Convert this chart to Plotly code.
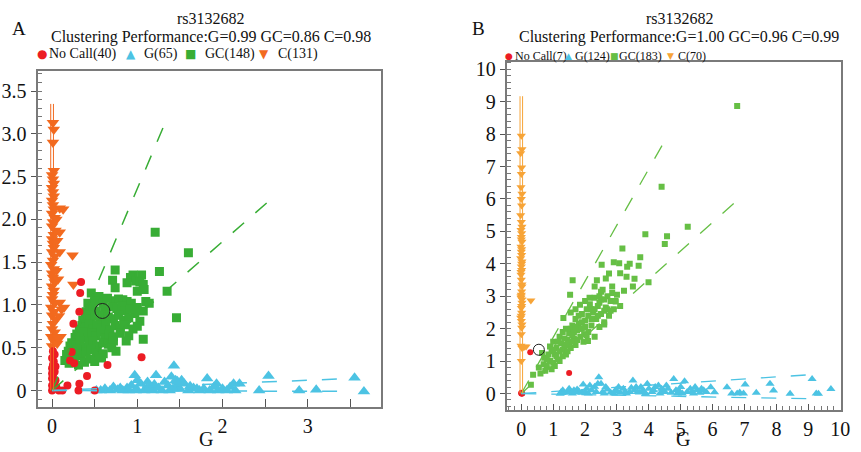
import plotly.graph_objects as go

W, H = 861, 452
FONT = "Liberation Serif, Times New Roman, serif"

# ---------------- panel A (rs3132682, run 1) ----------------
a_title = "rs3132682"
a_sub = "Clustering Performance:G=0.99 GC=0.86 C=0.98"
a_legend = ["No Call(40)", "G(65)", "GC(148)", "C(131)"]

a_nocall_x = [0, 0.01, 0, 0.02, 0, 0.01, 0.03, 0, 0.01, 0.02, 0, 0.03, 0.01, 0.04, 0.05, 0.04, 0, 0.02,
              0.34, 0.33, 0.32, 0.25, 0.21, 0.41, 0.32, 0.18, 0.65, 1.05, 0.31, 0.12, 0.5, 0.08, 0.26, 0.23]
a_nocall_y = [0.0, 0.03, 0.06, 0.1, 0.14, 0.18, 0.22, 0.26, 0.3, 0.34, 0.38, 0.42, 0.46, 0.12, 0.04, 0.28, 0.2, 0.07,
              1.27, 1.14, 0.92, 0.78, 0.35, 0.17, 0.08, 0.06, 0.3, 0.39, 0.0, 0.0, 0.0, 0.0, 0.32, 0.45]

a_g_x = [0.57, 0.62, 0.68, 0.77, 0.83, 0.88, 0.93, 0.97, 0.99, 1.04, 1.08, 1.11, 1.15, 1.18, 1.22, 1.25, 1.29,
         1.32, 1.36, 1.4, 1.43, 1.46, 1.5, 1.55, 1.6, 1.66, 1.73, 1.78, 1.82, 1.85, 1.9, 1.93, 2.0, 2.09, 2.15,
         2.2, 2.43, 2.54, 2.9, 3.1, 3.55, 3.66, 0.72, 1.0, 1.38, 1.2, 0.9, 1.62, 1.7, 1.95, 2.05, 0.52, 0.98,
         0.8, 1.42, 1.47, 1.52, 1.12, 1.45, 2.13]
a_g_y = [0.0, 0.02, 0.0, 0.01, 0.0, 0.03, 0.06, 0.18, 0.02, 0.08, 0.0, 0.02, 0.05, 0.0, 0.18, 0.03, 0.0,
         0.1, 0.06, 0.16, 0.29, 0.05, 0.02, 0.08, 0.0, 0.03, 0.0, 0.02, 0.14, 0.0, 0.04, 0.08, 0.02, 0.04, 0.0,
         0.08, 0.0, 0.17, 0.0, 0.01, 0.15, -0.01, 0.04, 0.12, 0.0, 0.07, 0.0, 0.05, 0.02, 0.0, 0.0, 0.0, 0.0,
         0.03, 0.02, 0.11, 0.12, 0.1, 0.12, 0.08]

a_gc_x = [0.74, 0.95, 1.05, 1.26, 0.71, 0.92, 0.98, 1.03, 1.07, 0.88, 0.46, 0.74, 1.0, 1.08, 1.35, 0.55,
          0.42, 0.5, 0.6, 0.72, 0.78, 0.83, 0.88, 0.93, 1.1, 1.14, 0.65,
          0.4, 0.44, 0.48, 0.52, 0.62, 0.7, 0.76, 0.82, 0.86, 0.92, 1.0, 1.07, 0.97,
          0.36, 0.39, 0.42, 0.45, 0.5, 0.56, 0.6, 0.66, 0.72, 0.78, 0.84, 0.9, 1.03, 1.46,
          0.32, 0.35, 0.38, 0.43, 0.48, 0.53, 0.58, 0.63, 0.68, 0.74, 0.8, 0.86, 0.95, 1.0,
          0.27, 0.29, 0.32, 0.37, 0.42, 0.47, 0.52, 0.57, 0.62, 0.67, 0.72, 0.8, 0.9, 1.07,
          0.21, 0.23, 0.28, 0.33, 0.38, 0.43, 0.48, 0.53, 0.6, 0.66, 0.72, 0.87,
          0.17, 0.19, 0.24, 0.29, 0.34, 0.4, 0.46, 0.52, 0.6, 0.75, 0.7,
          0.15, 0.2, 0.26, 0.31, 0.38, 0.44, 0.5, 0.58,
          1.21, 1.6]
a_gc_y = [1.41, 1.35, 1.35, 1.39, 1.29, 1.32, 1.28, 1.27, 1.24, 1.26, 1.14, 1.2, 1.16, 1.18, 1.16, 1.1,
          1.02, 1.05, 1.02, 1.05, 1.07, 1.06, 1.04, 1.02, 1.04, 1.02, 1.08,
          0.92, 0.95, 0.97, 0.93, 0.95, 0.98, 0.96, 0.99, 0.93, 0.95, 0.97, 0.93, 0.9,
          0.82, 0.85, 0.88, 0.84, 0.87, 0.83, 0.88, 0.86, 0.84, 0.88, 0.82, 0.85, 0.81, 0.85,
          0.72, 0.76, 0.74, 0.78, 0.72, 0.77, 0.73, 0.78, 0.71, 0.76, 0.73, 0.77, 0.72, 0.75,
          0.62, 0.66, 0.63, 0.68, 0.62, 0.67, 0.64, 0.69, 0.61, 0.66, 0.63, 0.67, 0.64, 0.6,
          0.52, 0.56, 0.53, 0.58, 0.51, 0.55, 0.58, 0.52, 0.56, 0.54, 0.58, 0.58,
          0.42, 0.46, 0.43, 0.48, 0.41, 0.45, 0.48, 0.44, 0.43, 0.46, 0.5,
          0.35, 0.32, 0.36, 0.3, 0.33, 0.37, 0.34, 0.38,
          1.85, 1.61]

a_c_x = [0, 0.02, -0.01, 0.03, 0, 0.01, 0.04, 0, 0.02, -0.01, 0.03, 0, 0.01, 0.02, 0, 0.03, 0.01, 0, 0.02,
         -0.01, 0.01, 0.03, 0, 0.02, 0.01, 0, 0.02, 0.04, 0, 0.01, 0.03, 0, 0.02, 0.01, 0, 0.02, 0.01, 0,
         0.02, 0.01, 0, 0.02, 0.01, 0.02, 0.01,
         0.09, 0.13, 0.09, 0.24, 0.09, 0.25, 0.09, 0.11, 0.06, 0.07, 0.05, 0.06, 0.05, 0.1, 0.07, 0.08, 0.14, 0.07]
a_c_y = [0.52, 0.58, 0.63, 0.68, 0.72, 0.78, 0.83, 0.88, 0.92, 0.97, 1.02, 1.07, 1.12, 1.17, 1.22, 1.27, 1.32,
         1.37, 1.42, 1.47, 1.52, 1.57, 1.62, 1.67, 1.72, 1.77, 1.82, 1.87, 1.92, 1.97, 2.02, 2.07, 2.12, 2.17,
         2.22, 2.27, 2.32, 2.37, 2.42, 2.47, 2.52, 2.57, 2.9, 3.05, 3.13,
         2.13, 2.12, 1.85, 1.58, 1.62, 1.24, 1.03, 0.95, 0.55, 0.6, 1.4, 1.75, 2.0, 0.63, 1.3, 0.87, 0.97, 0.62]

a_g_lines = [([0, 3.5], [0, 0.14]), ([0, 3.5], [0, -0.01])]
a_gc_lines = [([0, 1.31], [0, 3.09]), ([0, 2.55], [0, 2.22])]
a_c_lines = [([-0.016, -0.016], [0, 3.35]), ([0.016, 0.016], [0, 3.35])]
a_center = (0.59, 0.93)

# ---------------- panel B (rs3132682, run 2) ----------------
b_title = "rs3132682"
b_sub = "Clustering Performance:G=1.00 GC=0.96 C=0.99"
b_legend = ["No Call(7)", "G(124)", "GC(183)", "C(70)"]

b_nocall_x = [0, 0.02, 0, 0.01, 0.28, 1.5, 0.03]
b_nocall_y = [0, 0.0, 0.02, 0.01, 1.27, 0.63, 0.0]

b_g_x = [1.22, 1.35, 1.45, 1.55, 1.6, 1.7, 1.8, 1.9, 1.94, 2.0, 2.1, 2.2, 2.3, 2.43, 2.5, 2.55, 2.6, 2.7,
         2.8, 2.9, 3.0, 3.1, 3.2, 3.3, 3.4, 3.5, 3.55, 3.6, 3.7, 3.75, 3.8, 3.9, 3.95, 4.0, 4.1, 4.2, 4.3,
         4.35, 4.45, 4.5, 4.6, 4.7, 4.78, 4.85, 4.9, 5.0, 5.12, 5.2, 5.3, 5.4, 5.5, 5.6, 5.72, 5.8, 5.94,
         6.06, 6.45, 6.6, 6.77, 6.85, 6.97, 7.02, 7.37, 7.8, 7.91, 8.43, 9.12, 9.32, 9.25, 9.71,
         1.3, 1.5, 1.75, 2.05, 2.35, 2.65, 2.95, 3.25, 3.45, 3.85, 4.15, 4.55, 4.95, 5.35, 5.65, 2.4, 1.25,
         1.65, 2.15, 3.05, 3.65, 4.4, 5.05, 5.45]
b_g_y = [-0.01, 0.02, 0.05, 0.06, 0.0, 0.03, 0.08, 0.02, 0.28, 0.05, 0.0, 0.1, 0.21, 0.5, 0.3, 0.05, 0.0, 0.12,
         0.03, 0.0, 0.08, 0.02, 0.15, 0.0, 0.05, 0.4, 0.1, 0.2, 0.03, 0.2, 0.1, 0.0, 0.3, 0.15, 0.05, 0.2, 0.25,
         0.0, 0.1, 0.05, 0.15, 0.02, 0.45, 0.1, 0.0, 0.2, 0.38, 0.05, 0.15, 0.0, 0.1, 0.02, 0.1, 0.05, 0.19,
         0.04, 0.19, 0.0, 0.0, 0.03, 0.0, 0.28, 0.02, 0.3, 0.09, -0.01, 0.45, -0.01, 0.0, 0.14,
         0.1, 0.15, 0.12, 0.15, 0.05, 0.2, 0.1, 0.05, 0.18, 0.05, 0.1, 0.25, 0.08, 0.05, 0.15, 0.3, 0.05,
         0.1, 0.25, 0.2, 0.05, 0.15, 0.0, 0.2]

b_gc_x = [0.3, 0.37, 0.55, 0.6, 0.7, 0.8, 0.72, 0.65, 0.9, 0.85, 0.95, 1.0, 1.05, 0.9, 1.0, 1.1, 1.15, 1.2,
          1.25, 1.2, 1.3, 1.35, 1.4, 1.45, 1.5, 1.4, 1.55, 1.6, 1.65, 1.7, 1.7, 1.75, 1.8, 1.85, 1.9, 1.9, 1.95,
          2.0, 2.05, 2.1, 2.1, 2.15, 2.2, 2.25, 2.3, 2.3, 2.35, 2.4, 2.45, 2.5, 2.5, 2.55, 2.6, 2.65, 2.7, 2.75,
          2.8, 2.85, 2.9, 2.95, 3.0, 3.1, 2.6, 1.61, 1.53, 2.37, 2.52, 3.07, 3.32, 3.68, 3.1, 3.55, 3.99, 3.22,
          3.17, 3.73, 3.89, 4.57, 4.5, 5.22, 4.4, 6.77, 2.09, 1.97, 2.96, 1.84, 2.14, 2.5, 1.32,
          1.1, 1.15, 1.3, 1.35, 1.45, 1.5, 1.55, 1.6, 1.65, 1.75, 1.8, 1.85, 2.0, 2.05, 2.2, 2.3, 2.4, 2.45,
          2.6, 2.7, 0.8, 0.95, 1.05, 1.2, 0.75, 1.0, 1.3, 1.4, 1.6, 1.7, 1.9, 2.2, 2.6, 2.8, 2.85, 2.65, 2.75,
          2.3, 2.0, 1.7, 1.55, 2.9, 3.3, 3.5, 3.4, 2.45]
b_gc_y = [0.27, 0.58, 0.8, 0.62, 0.9, 0.85, 1.1, 1.25, 1.0, 1.2, 0.75, 0.95, 1.2, 1.45, 1.6, 1.4, 1.05, 1.3,
          1.55, 1.75, 1.9, 1.45, 1.2, 1.65, 1.85, 2.0, 1.4, 2.1, 1.7, 1.5, 2.3, 1.95, 2.15, 1.75, 2.45, 2.0, 1.6,
          2.25, 2.6, 1.9, 2.4, 2.75, 2.1, 2.5, 2.95, 1.75, 2.3, 2.7, 2.05, 2.9, 2.45, 3.2, 2.2, 2.65, 3.0, 2.4,
          2.85, 3.1, 2.6, 2.85, 3.05, 2.7, 2.13, 3.49, 3.05, 3.49, 3.97, 4.02, 3.91, 3.94, 3.71, 3.54, 3.43, 3.17,
          4.47, 4.2, 4.91, 4.85, 4.61, 5.14, 6.38, 8.87, 1.62, 1.83, 2.84, 2.74, 2.95, 3.14, 2.33,
          1.15, 1.6, 1.35, 1.7, 1.3, 1.55, 2.0, 1.6, 1.9, 1.65, 2.4, 2.0, 2.05, 1.8, 2.3, 2.6, 2.4, 2.8,
          2.9, 2.6, 1.05, 1.3, 0.85, 1.0, 0.7, 1.35, 1.15, 1.5, 1.8, 2.05, 2.2, 2.6, 2.55, 2.55, 3.3, 3.55, 3.7,
          3.3, 2.85, 2.6, 2.5, 4.05, 3.6, 3.3, 4.0, 3.0]

b_c_x = [0, 0.02, -0.02, 0.01, 0, -0.01, 0.02, 0, 0.01, -0.02, 0, 0.02, -0.01, 0.01, 0, 0.02, -0.01, 0,
         0.01, -0.02, 0.02, 0, 0.01, -0.01, 0, 0.02, 0.01, 0, -0.01, 0.02, 0, 0.01, -0.02, 0, 0.02, 0.01, 0,
         -0.01, 0.02, 0, 0.01, 0, 0.02, -0.01, 0.01, 0, 0.02, -0.01, 0.01,
         0.3, 0.1, 0.15, 0.05]
b_c_y = [7.95, 7.53, 7.41, 6.97, 6.77, 6.36, 6.16, 6.0, 5.8, 5.5, 5.29, 5.14, 5.04, 4.94, 4.83, 4.68, 4.53,
         4.37, 4.27, 4.17, 4.07, 3.92, 3.81, 3.66, 3.51, 3.36, 3.15, 3.05, 2.95, 2.8, 2.64, 2.49, 2.34, 2.24,
         2.13, 2.03, 1.83, 1.47, 1.4, 1.0, 4.45, 4.75, 3.3, 3.0, 2.7, 2.4, 2.9, 3.75, 4.0,
         2.87, 1.44, 1.45, 1.42]

b_g_lines = [([0, 9.07], [0, 0.58]), ([0, 9.0], [0, -0.16])]
b_gc_lines = [([0, 4.6], [0, 7.97]), ([0, 6.93], [0, 6.1])]
b_c_lines = [([-0.04, -0.04], [0, 9.17]), ([0.04, 0.04], [0, 9.17])]
b_center = (0.55, 1.35)

# tick labels
a_xtick_vals = [0, 1, 2, 3]
a_ytick_vals = [0, 0.5, 1.0, 1.5, 2.0, 2.5, 3.0, 3.5]
a_ytick_text = ["0", "0.5", "1.0", "1.5", "2.0", "2.5", "3.0", "3.5"]
b_xtick_vals = list(range(0, 11))
b_ytick_vals = list(range(0, 11))

RED = "#ec1c24"
BLUE = "#4cc3e3"
A_GREEN, B_GREEN = "#38ad35", "#66bf45"
A_ORANGE, B_ORANGE = "#f26a1f", "#f7a437"


def px_x(p):
    return p / W


def px_y(p):
    return 1 - p / H


fig = go.Figure()


def add_panel(xa, ya, nocall, g, gc, c, g_lines, gc_lines, c_lines, center, green, orange, sizes, lw):
    s_nc, s_g, s_gc, s_c, s_ctr = sizes
    fig.add_trace(go.Scatter(x=gc[0], y=gc[1], mode="markers", xaxis=xa, yaxis=ya,
                             marker=dict(symbol="square", size=s_gc, color=green)))
    fig.add_trace(go.Scatter(x=c[0], y=c[1], mode="markers", xaxis=xa, yaxis=ya,
                             marker=dict(symbol="triangle-down", size=s_c, color=orange)))
    fig.add_trace(go.Scatter(x=g[0], y=g[1], mode="markers", xaxis=xa, yaxis=ya,
                             marker=dict(symbol="triangle-up", size=s_g, color=BLUE)))
    fig.add_trace(go.Scatter(x=nocall[0], y=nocall[1], mode="markers", xaxis=xa, yaxis=ya,
                             marker=dict(symbol="circle", size=s_nc, color=RED)))
    for lx, ly in gc_lines:
        fig.add_trace(go.Scatter(x=lx, y=ly, mode="lines", xaxis=xa, yaxis=ya,
                                 line=dict(color=green, width=lw, dash="longdash")))
    for lx, ly in g_lines:
        fig.add_trace(go.Scatter(x=lx, y=ly, mode="lines", xaxis=xa, yaxis=ya,
                                 line=dict(color=BLUE, width=lw, dash="longdash")))
    for lx, ly in c_lines:
        fig.add_trace(go.Scatter(x=lx, y=ly, mode="lines", xaxis=xa, yaxis=ya,
                                 line=dict(color=orange, width=1)))
    fig.add_trace(go.Scatter(x=[center[0]], y=[center[1]], mode="markers", xaxis=xa, yaxis=ya,
                             marker=dict(symbol="circle-open", size=s_ctr, color="#222222",
                                         line=dict(width=1))))


add_panel("x", "y", (a_nocall_x, a_nocall_y), (a_g_x, a_g_y), (a_gc_x, a_gc_y), (a_c_x, a_c_y),
          a_g_lines, a_gc_lines, a_c_lines, a_center, A_GREEN, A_ORANGE, (8, 11, 9, 11, 15), 1.5)
add_panel("x2", "y2", (b_nocall_x, b_nocall_y), (b_g_x, b_g_y), (b_gc_x, b_gc_y), (b_c_x, b_c_y),
          b_g_lines, b_gc_lines, b_c_lines, b_center, B_GREEN, B_ORANGE, (6, 8, 6, 8, 11), 1.3)

axis_common = dict(showline=True, mirror=True, linecolor="#7a7a7a", linewidth=2, showgrid=False,
                   zeroline=False, tickcolor="#555555", tickfont=dict(family=FONT, size=20, color="#111111"))

annotations = []


def text(x, y, s, size, anchor="center", color="#111111"):
    annotations.append(dict(x=px_x(x), y=px_y(y), xref="paper", yref="paper", text=s, showarrow=False,
                            xanchor=anchor, yanchor="middle", font=dict(family=FONT, size=size, color=color)))


# panel titles
text(10, 25, "A", 19, "left")
text(213, 15, a_title, 16)
text(213, 33, a_sub, 16)
text(475, 25, "B", 19, "left")
text(687, 15, b_title, 16)
text(686, 33, b_sub, 16)
text(208, 439, "G", 20)
text(690, 439, "G", 20)

# legend rows
symbols = ["●", "▲", "■", "▼"]
a_cols = [RED, BLUE, A_GREEN, A_ORANGE]
b_cols = [RED, BLUE, B_GREEN, B_ORANGE]
a_sym_x = [35, 125, 185, 260]
a_txt_x = [48, 144, 205, 279]
b_sym_x = [508, 569, 614, 672]
b_txt_x = [518, 579, 624, 683]
for i in range(4):
    annotations.append(dict(x=px_x(a_sym_x[i]), y=px_y(50), xref="paper", yref="paper", text=symbols[i],
                            showarrow=False, xanchor="left", yanchor="middle",
                            font=dict(family="DejaVu Sans", size=12, color=a_cols[i])))
    text(a_txt_x[i], 50, a_legend[i], 14, "left")
    annotations.append(dict(x=px_x(b_sym_x[i]), y=px_y(52), xref="paper", yref="paper", text=symbols[i],
                            showarrow=False, xanchor="left", yanchor="middle",
                            font=dict(family="DejaVu Sans", size=9, color=b_cols[i])))
    text(b_txt_x[i], 52, b_legend[i], 12, "left")

fig.update_layout(
    width=W, height=H, margin=dict(l=0, r=0, t=0, b=0),
    paper_bgcolor="white", plot_bgcolor="white", showlegend=False,
    xaxis=dict(domain=[px_x(38), px_x(385)], range=[-0.17, 3.86], tickvals=a_xtick_vals,
               ticks="inside", ticklen=8, anchor="y",
               minor=dict(dtick=0.5, ticks="inside", ticklen=8, tickcolor="#555555"), **axis_common),
    yaxis=dict(domain=[px_y(407), px_y(68)], range=[-0.197, 3.73], tickvals=a_ytick_vals,
               ticktext=a_ytick_text, ticks="outside", ticklen=5, anchor="x",
               minor=dict(dtick=0.1, tick0=0, ticks="inside", ticklen=4, tickcolor="#777777"), **axis_common),
    xaxis2=dict(domain=[px_x(512), px_x(850)], range=[-0.46, 10.03], tickvals=b_xtick_vals,
                ticks="inside", ticklen=6, anchor="y2",
                minor=dict(dtick=0.2, ticks="inside", ticklen=4, tickcolor="#777777"), **axis_common),
    yaxis2=dict(domain=[px_y(410), px_y(59)], range=[-0.52, 10.21], tickvals=b_ytick_vals,
                ticks="outside", ticklen=5, anchor="x2",
                minor=dict(dtick=0.2, ticks="inside", ticklen=4, tickcolor="#777777"), **axis_common),
    annotations=annotations,
)

fig.write_html("out.html", config={"displayModeBar": False},
               post_script="document.body.style.margin='0px';")
